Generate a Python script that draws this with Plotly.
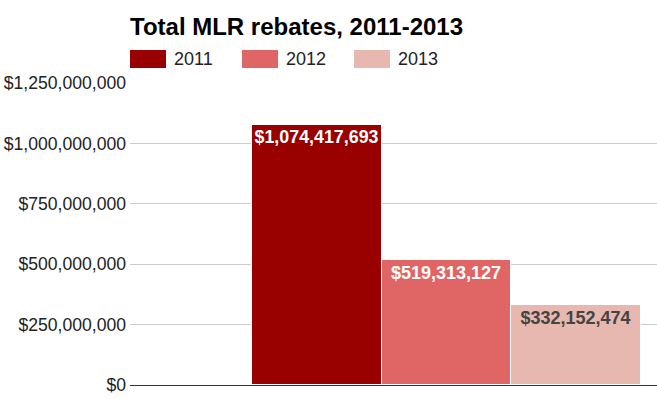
import plotly.graph_objects as go

years = ["2011", "2012", "2013"]
rebates = [1074417693, 519313127, 332152474]
colors = ["#990000", "#e06666", "#e6b8af"]
label_colors = ["#ffffff", "#ffffff", "#444444"]
y_ticks = [0, 250000000, 500000000, 750000000, 1000000000, 1250000000]
y_tick_text = ["$0", "$250,000,000", "$500,000,000", "$750,000,000", "$1,000,000,000", "$1,250,000,000"]

FONT = "Arial, Liberation Sans, sans-serif"

fig = go.Figure()
for yr, val, col, lc in zip(years, rebates, colors, label_colors):
    fig.add_trace(go.Bar(
        x=[""], y=[val], name=yr,
        marker=dict(color=col, line=dict(color="#ffffff", width=1)),
        text=["${:,.0f}".format(val)],
        textposition="inside", insidetextanchor="end",
        textfont=dict(family=FONT, size=18, color=lc, weight="bold"),
        textangle=0,
        hoverinfo="skip",
        showlegend=False,
    ))

# custom legend (swatches + labels)
for i, (yr, col) in enumerate(zip(years, colors)):
    x0 = 130 + i * 112
    fig.add_shape(type="rect", xref="paper", yref="paper",
                  x0=(x0 - 130) / 527, x1=(x0 + 36 - 130) / 527,
                  y0=(385 - 68) / 302, y1=(385 - 50) / 302,
                  line=dict(width=0), fillcolor=col)
    fig.add_annotation(text=yr, xref="paper", yref="paper",
                       x=(x0 + 42 - 130) / 527, y=(385 - 59) / 302,
                       xanchor="left", yanchor="middle", showarrow=False,
                       font=dict(family=FONT, size=18, color="#222222"))

fig.update_layout(
    width=657, height=399,
    margin=dict(l=130, r=0, t=83, b=14),
    paper_bgcolor="white", plot_bgcolor="white",
    barmode="group", bargap=0, bargroupgap=0,
    title=dict(text="<b>Total MLR rebates, 2011-2013</b>", x=130 / 657, xanchor="left",
               y=1 - 35 / 399, yanchor="bottom",
               font=dict(family=FONT, size=24, color="#000000")),
    font=dict(family=FONT),
    xaxis=dict(range=[-0.8136, 0.5411], showticklabels=False, showgrid=False,
               zeroline=False, showline=True, linecolor="#333333", linewidth=1,
               fixedrange=True),
    yaxis=dict(range=[0, 1250000000], tickvals=y_ticks, ticktext=y_tick_text,
               showgrid=True, gridcolor="#cccccc", gridwidth=1, zeroline=False,
               ticks="", ticklabelstandoff=3, fixedrange=True,
               tickfont=dict(family=FONT, size=17.6, color="#222222")),
)

fig.write_html("out.html", config={"displayModeBar": False})
with open("out.html", encoding="utf-8") as f:
    html = f.read()
html = html.replace("<body>", '<body style="margin:0;padding:0;overflow:hidden">', 1)
with open("out.html", "w", encoding="utf-8") as f:
    f.write(html)
